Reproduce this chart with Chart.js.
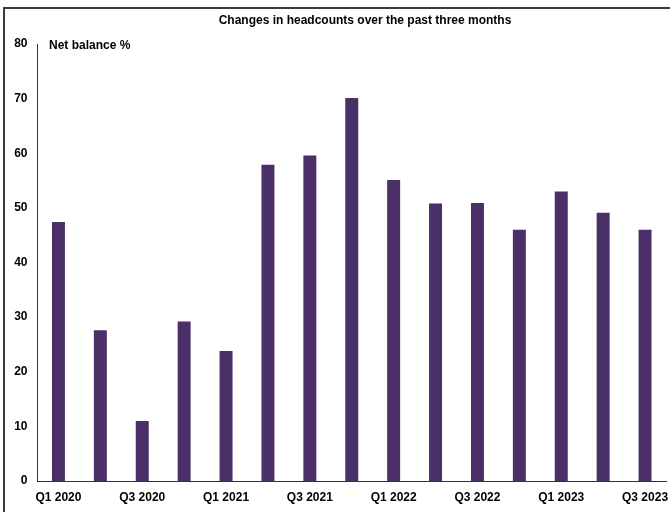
<!DOCTYPE html>
<html>
<head>
<meta charset="utf-8">
<script src="https://cdn.jsdelivr.net/npm/chart.js@4"></script>
<style>
  html, body { margin: 0; padding: 0; background: #fff; }
  #wrap { position: relative; width: 670px; height: 512px; }
</style>
</head>
<body>
<div id="wrap"><canvas id="c" width="670" height="512"></canvas></div>
<script>
// Quarterly net balance of firms reporting higher headcounts
const quarters = ['Q1 2020','Q2 2020','Q3 2020','Q4 2020','Q1 2021','Q2 2021','Q3 2021','Q4 2021',
                  'Q1 2022','Q2 2022','Q3 2022','Q4 2022','Q1 2023','Q2 2023','Q3 2023'];
const netBalance = [47.4, 27.6, 11.0, 29.2, 23.8, 57.9, 59.6, 70.1, 55.1, 50.8, 50.9, 46.0, 53.0, 49.1, 46.0];
const yTicks = [0, 10, 20, 30, 40, 50, 60, 70, 80];

const titleText = 'Changes in headcounts over the past three months';
const unitText = 'Net balance %';
const FONT = '"Liberation Sans", Arial, sans-serif';

// Frame, title and unit label drawn on the canvas
const decorations = {
  id: 'decorations',
  beforeDraw(chart) {
    const ctx = chart.ctx;
    ctx.save();
    ctx.fillStyle = '#fff';
    ctx.fillRect(0, 0, chart.width, chart.height);
    ctx.strokeStyle = '#3a3a3a';
    ctx.lineWidth = 2;
    ctx.beginPath();
    ctx.moveTo(4, chart.height);
    ctx.lineTo(4, 8);
    ctx.lineTo(chart.width, 8);
    ctx.stroke();
    ctx.restore();
  },
  afterDraw(chart) {
    const ctx = chart.ctx;
    ctx.save();
    ctx.fillStyle = '#000';
    ctx.font = 'bold 12px ' + FONT;
    ctx.textBaseline = 'middle';
    ctx.textAlign = 'center';
    ctx.fillText(titleText, 365, 21);
    ctx.textAlign = 'left';
    ctx.fillText(unitText, 49, 46);
    ctx.restore();
  }
};

new Chart(document.getElementById('c'), {
  type: 'bar',
  data: {
    labels: quarters,
    datasets: [{
      data: netBalance,
      backgroundColor: '#4B2F69',
      borderWidth: 0,
      categoryPercentage: 1.0,
      barPercentage: 0.31
    }]
  },
  options: {
    responsive: false,
    animation: false,
    devicePixelRatio: 1,
    layout: { padding: { top: 44, right: 4, left: 0, bottom: 0 } },
    plugins: { legend: { display: false }, title: { display: false }, tooltip: { enabled: false } },
    scales: {
      y: {
        min: yTicks[0],
        max: yTicks[yTicks.length - 1],
        afterBuildTicks(scale) { scale.ticks = yTicks.map(v => ({ value: v })); },
        afterFit(scale) { scale.width = 37.5; },
        grid: { display: false, drawTicks: false },
        border: { display: true, color: '#333', width: 1 },
        ticks: {
          padding: 10,
          color: '#000',
          font: { family: FONT, size: 12, weight: 'bold' }
        }
      },
      x: {
        grid: { display: false, drawTicks: false },
        border: { display: true, color: '#333', width: 1 },
        afterFit(scale) {
          scale.height = 31;
          // let the last label run into the right margin
          scale.paddingLeft = 0;
          scale.paddingRight = 0;
        },
        ticks: {
          autoSkip: false,
          maxRotation: 0,
          padding: 9,
          color: '#000',
          font: { family: FONT, size: 12, weight: 'bold' },
          callback(value, index) { return index % 2 === 0 ? quarters[index] : ''; }
        }
      }
    }
  },
  plugins: [decorations]
});
</script>
</body>
</html>
